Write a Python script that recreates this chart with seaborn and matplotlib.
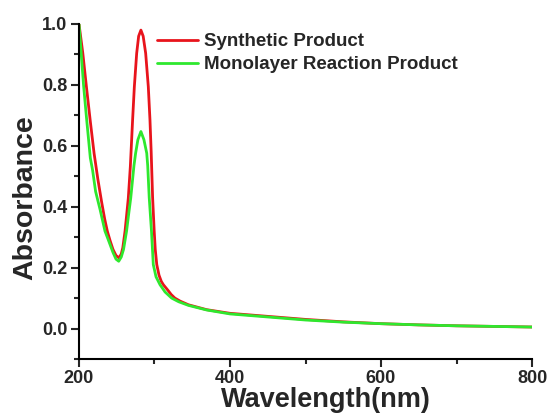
import matplotlib
matplotlib.use("Agg")
import matplotlib.pyplot as plt
import seaborn as sns
import pandas as pd
from matplotlib.ticker import MultipleLocator

# Wavelength (nm) and absorbance readings
wl_synthetic = [200, 205, 210, 215, 220, 225, 230, 234, 237.5, 241, 245, 249, 253, 256,
                258, 261, 263, 265.3, 268, 271, 273.3, 276.4, 279, 282, 285, 288.3,
                291.8, 294, 295.6, 297.5, 299.6, 301, 303, 306, 309, 311.7, 318, 322,
                327, 334, 345, 369, 400, 450, 500, 550, 600, 650, 700, 750, 800]
abs_synthetic = [1.0, 0.905, 0.79, 0.68, 0.575, 0.49, 0.415, 0.36, 0.32, 0.29, 0.26,
                 0.24, 0.232, 0.245, 0.265, 0.32, 0.37, 0.428, 0.532, 0.685, 0.794,
                 0.904, 0.96, 0.98, 0.96, 0.904, 0.794, 0.685, 0.58, 0.43, 0.32, 0.26,
                 0.21, 0.175, 0.155, 0.144, 0.125, 0.112, 0.10, 0.09, 0.078, 0.062,
                 0.05, 0.040, 0.030, 0.022, 0.016, 0.012, 0.009, 0.007, 0.005]

wl_monolayer = [200, 203, 206, 210, 215, 218, 222, 228, 234.4, 239, 245, 249, 252.6,
                256, 259, 263, 266, 268.5, 272.8, 275, 278, 282, 286, 289.7, 291,
                293, 296, 298.4, 302, 307.3, 314, 322.7, 332, 345, 369, 400, 450,
                500, 550, 600, 650, 700, 750, 800]
abs_monolayer = [1.0, 0.90, 0.80, 0.69, 0.56, 0.52, 0.45, 0.39, 0.32, 0.29, 0.25,
                 0.228, 0.221, 0.235, 0.26, 0.32, 0.38, 0.428, 0.535, 0.576, 0.62,
                 0.647, 0.62, 0.576, 0.535, 0.43, 0.32, 0.21, 0.17, 0.144, 0.12,
                 0.10, 0.088, 0.076, 0.061, 0.048, 0.038, 0.028, 0.021, 0.016, 0.012,
                 0.009, 0.007, 0.005]

series_names = ["Synthetic Product", "Monolayer Reaction Product"]
series_colors = ["#e8141c", "#2ee82e"]
x_ticks = [200, 400, 600, 800]
y_ticks = [0.0, 0.2, 0.4, 0.6, 0.8, 1.0]

df = pd.concat([
    pd.DataFrame({"Wavelength": wl_synthetic, "Absorbance": abs_synthetic, "Sample": series_names[0]}),
    pd.DataFrame({"Wavelength": wl_monolayer, "Absorbance": abs_monolayer, "Sample": series_names[1]}),
])

sns.set_style("ticks")
plt.rcParams["font.family"] = ["Liberation Sans", "DejaVu Sans"]
plt.rcParams["font.weight"] = "bold"
plt.rcParams["lines.solid_joinstyle"] = "round"
plt.rcParams["lines.solid_capstyle"] = "round"

fig = plt.figure(figsize=(5.47, 4.13), dpi=100)
ax = fig.add_axes([79 / 547, 1 - 359 / 413, 453 / 547, 335 / 413])

sns.lineplot(data=df, x="Wavelength", y="Absorbance", hue="Sample",
             palette=dict(zip(series_names, series_colors)), estimator=None,
             sort=False, linewidth=2.0, ax=ax)

ax.set_xlim(200, 800)
ax.set_ylim(-0.1, 1.0)
ax.set_xticks(x_ticks)
ax.set_yticks(y_ticks)
ax.set_yticklabels([f"{v:.1f}" for v in y_ticks])
ax.xaxis.set_minor_locator(MultipleLocator(100))
ax.yaxis.set_minor_locator(MultipleLocator(0.1))
ax.tick_params(which="major", direction="out", length=5.5, width=1.5, labelsize=13, pad=3)
ax.tick_params(axis="x", which="major", pad=2.5)
ax.tick_params(which="minor", direction="out", length=3.5, width=1.5)
for lab in ax.get_xticklabels() + ax.get_yticklabels():
    lab.set_fontweight("bold")

sns.despine(ax=ax)
for s in ["left", "bottom"]:
    ax.spines[s].set_linewidth(1.5)
    ax.spines[s].set_color("black")

ax.set_xlabel("Wavelength(nm)", fontsize=19.5, fontweight="bold")
ax.set_ylabel("Absorbance", fontsize=20.5, fontweight="bold")
ax.xaxis.set_label_coords(0.545, -0.084)
ax.yaxis.set_label_coords(-0.09, 0.482)

leg = ax.legend(loc="upper left", bbox_to_anchor=(0.172, 0.973), frameon=False,
                borderpad=0, borderaxespad=0, handlelength=2.2, handletextpad=0.32,
                labelspacing=0.31, prop={"weight": "bold", "size": 13.5})
for line in leg.get_lines():
    line.set_linewidth(2.0)

fig.savefig("out.png", dpi=100)
